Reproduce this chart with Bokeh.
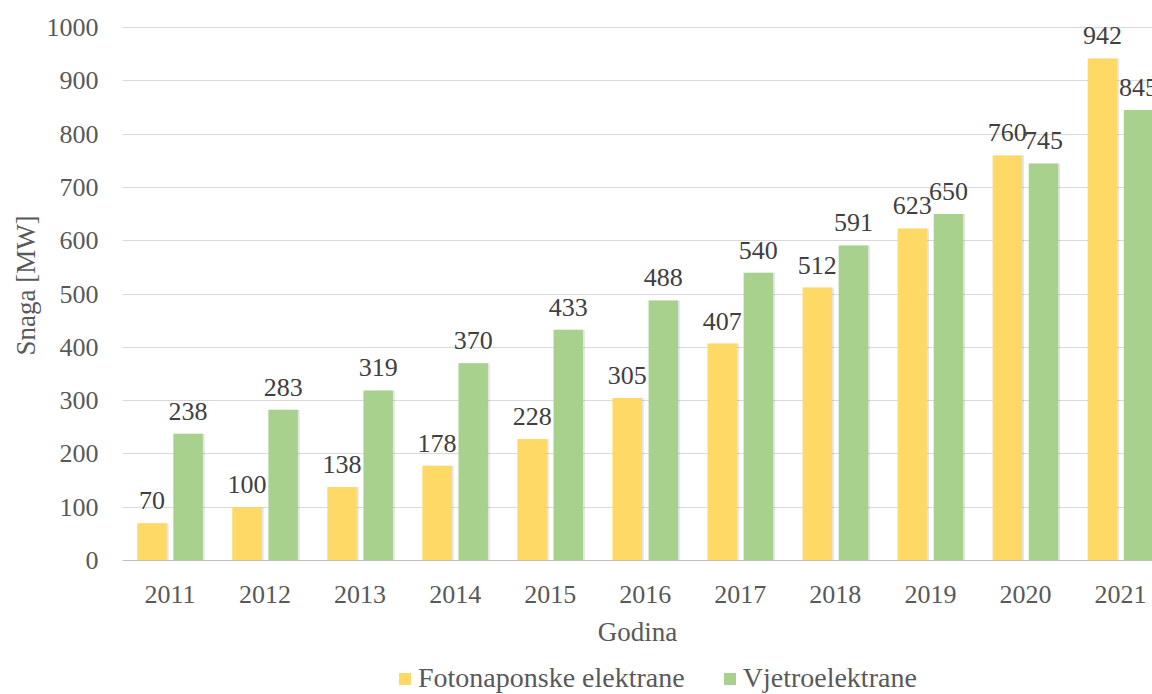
from bokeh.plotting import figure
from bokeh.layouts import column
from bokeh.models import Range1d, FixedTicker, Legend, LegendItem, ColumnDataSource
from bokeh.embed import file_html
from bokeh.resources import INLINE
from bokeh.core.properties import value

years = ["2011", "2012", "2013", "2014", "2015", "2016", "2017", "2018", "2019", "2020", "2021"]
solar = [70, 100, 138, 178, 228, 305, 407, 512, 623, 760, 942]
wind = [238, 283, 319, 370, 433, 488, 540, 591, 650, 745, 845]
y_ticks = [0, 100, 200, 300, 400, 500, 600, 700, 800, 900, 1000]

FONT = "Liberation Serif"
TXT = "#595959"
YELLOW = "#FFD966"
GREEN = "#A9D18E"
FS = "26px"

pos = list(range(len(years)))
off = 0.19
bw = 0.31
src = ColumnDataSource(dict(
    xs=[p - off for p in pos], xw=[p + off for p in pos],
    xss=[p - off + 0.02 for p in pos], xws=[p + off + 0.02 for p in pos],
    solar=solar, wind=wind,
    ls=[str(v) for v in solar], lw=[str(v) for v in wind],
))

p = figure(width=1152, height=650, output_backend="svg", toolbar_location=None,
           x_range=Range1d(-0.5, 10.337), y_range=Range1d(0, 1031.9),
           min_border_left=122, min_border_right=0, min_border_top=10, min_border_bottom=90)
p.outline_line_color = None
p.background_fill_color = "white"

# shadows
p.vbar(x="xss", top="solar", width=bw, source=src, fill_color="black", fill_alpha=0.10, line_color=None)
p.vbar(x="xws", top="wind", width=bw, source=src, fill_color="black", fill_alpha=0.10, line_color=None)

r1 = p.vbar(x="xs", top="solar", width=bw, source=src, fill_color=YELLOW, line_color=None)
r2 = p.vbar(x="xw", top="wind", width=bw, source=src, fill_color=GREEN, line_color=None)

p.text(x="xs", y="solar", text="ls", source=src, text_align="center", text_baseline="bottom",
       y_offset=-14, text_font=value(FONT), text_font_size=FS, text_color="#404040")
p.text(x="xw", y="wind", text="lw", source=src, text_align="center", text_baseline="bottom",
       y_offset=-14, text_font=value(FONT), text_font_size=FS, text_color="#404040")

p.xgrid.grid_line_color = None
p.ygrid.grid_line_color = "#D9D9D9"
p.ygrid.ticker = FixedTicker(ticks=y_ticks)

p.yaxis.ticker = FixedTicker(ticks=y_ticks)
p.yaxis.axis_line_color = None
p.yaxis.major_tick_line_color = None
p.yaxis.minor_tick_line_color = None
p.yaxis.major_tick_out = 0
p.yaxis.major_label_standoff = 24
p.yaxis.axis_label = "Snaga [MW]"
p.yaxis.axis_label_standoff = 3
p.yaxis.axis_label_text_font_style = "normal"

p.xaxis.ticker = FixedTicker(ticks=pos)
p.xaxis.major_label_overrides = {i: y for i, y in enumerate(years)}
p.xaxis.axis_line_color = "#BFBFBF"
p.xaxis.major_tick_line_color = None
p.xaxis.minor_tick_line_color = None
p.xaxis.major_tick_out = 0
p.xaxis.major_label_standoff = 25
p.xaxis.axis_label = "Godina"
p.xaxis.axis_label_standoff = 11
p.xaxis.axis_label_text_font_style = "normal"

for ax in (p.xaxis, p.yaxis):
    ax.major_label_text_font = FONT
    ax.major_label_text_font_size = FS
    ax.major_label_text_color = TXT
    ax.axis_label_text_font = FONT
    ax.axis_label_text_font_size = "27px"
    ax.axis_label_text_color = TXT

# legend strip
lf = figure(width=1152, height=44, output_backend="svg", toolbar_location=None,
            x_range=Range1d(0, 1), y_range=Range1d(0, 1),
            min_border_left=0, min_border_right=0, min_border_top=0, min_border_bottom=0)
lf.axis.visible = False
lf.grid.visible = False
lf.outline_line_color = None
l1 = lf.vbar(x=[5], top=[1], width=0.1, fill_color=YELLOW, line_color=None)
l2 = lf.vbar(x=[5], top=[1], width=0.1, fill_color=GREEN, line_color=None)
legend = Legend(items=[LegendItem(label="Fotonaponske elektrane", renderers=[l1]),
                       LegendItem(label="Vjetroelektrane", renderers=[l2])],
                orientation="horizontal", location=(275, 0))
legend.label_text_font = FONT
legend.label_text_font_size = "28px"
legend.label_text_color = TXT
legend.glyph_width = 15
legend.glyph_height = 15
legend.label_standoff = 6
legend.spacing = 37
legend.padding = 0
legend.margin = 0
legend.border_line_color = None
legend.background_fill_alpha = 0
lf.add_layout(legend, "center")

open("out.html", "w").write(file_html(column(p, lf, spacing=0), INLINE))
